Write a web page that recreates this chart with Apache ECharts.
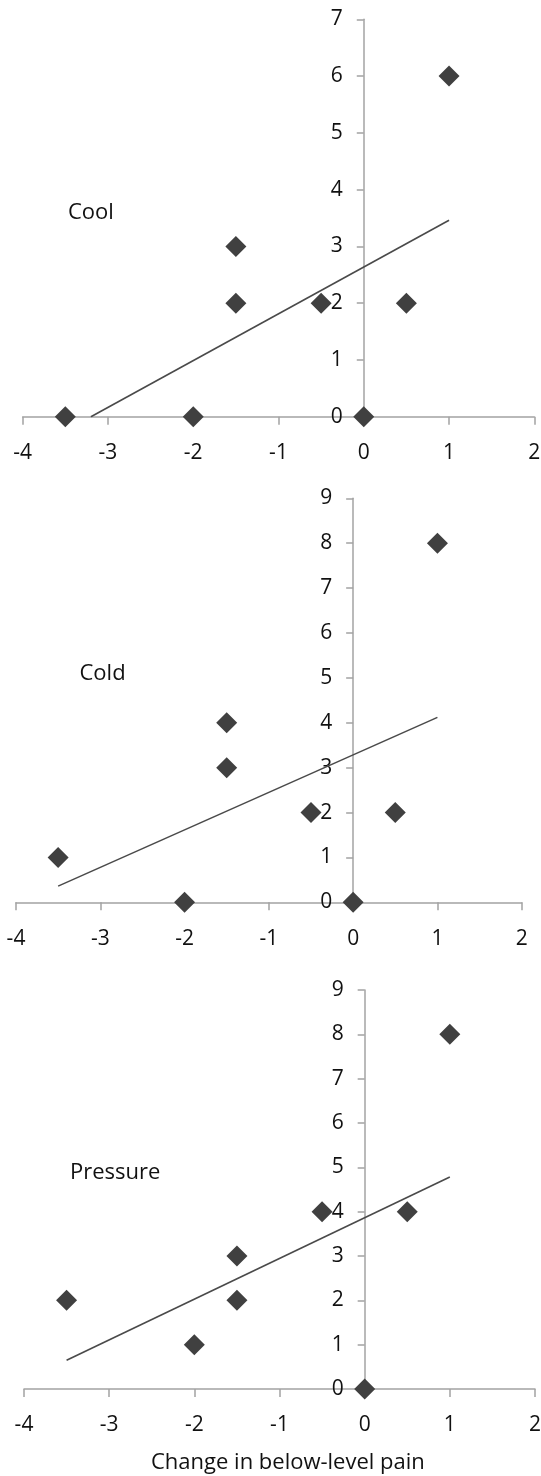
<!DOCTYPE html>
<html>
<head>
<meta charset="utf-8">
<script src="https://cdn.jsdelivr.net/npm/echarts@6/dist/echarts.min.js"></script>
<style>
html,body{margin:0;padding:0;background:#fff;}
#chart{width:541px;height:1476px;}
</style>
</head>
<body>
<div id="chart"></div>
<script>
// Data
const xValues = [-3.5, -2, -1.5, -1.5, -0.5, 0, 0.5, 1];
const coolValues = [0, 0, 3, 2, 2, 0, 2, 6];
const coldValues = [1, 0, 4, 3, 2, 0, 2, 8];
const pressureValues = [2, 1, 3, 2, 4, 0, 4, 8];
// Trend line endpoints (x, y)
const coolTrend = [[-3.2, 0], [1, 3.46]];
const coldTrend = [[-3.5, 0.36], [1, 4.12]];
const pressureTrend = [[-3.5, 0.65], [1, 4.78]];
const panelNames = ['Cool', 'Cold', 'Pressure'];
const yMaxes = [7, 9, 9];
const xMin = -4, xMax = 2;
const xAxisTitle = 'Change in below-level pain';

const FONT = 'Open Sans';
const axisGray = '#a3a3a3';
const markColor = '#404040';
const textColor = '#111111';

const grids = [
  {left: 22.7, top: 19.3, width: 511.6, height: 397.4, outerBoundsMode: 'none', containLabel: false},
  {left: 16, top: 498.3, width: 505.7, height: 404, outerBoundsMode: 'none', containLabel: false},
  {left: 24, top: 990, width: 511, height: 399, outerBoundsMode: 'none', containLabel: false}
];
const labelPos = [
  {left: 68, top: 199},
  {left: 79.5, top: 660},
  {left: 70, top: 1159}
];
const allY = [coolValues, coldValues, pressureValues];
const allTrend = [coolTrend, coldTrend, pressureTrend];

const xAxes = [], yAxes = [], series = [], titles = [];
for (let i = 0; i < 3; i++) {
  // shift the y axis so it sits at x = 0 (offset derived from the grid width)
  const yOffset = -grids[i].width * (0 - xMin) / (xMax - xMin);
  xAxes.push({
    type: 'value', gridIndex: i, min: xMin, max: xMax, interval: 1, position: 'bottom',
    splitLine: {show: false},
    axisLine: {onZero: false, lineStyle: {color: axisGray, width: 1.5}},
    axisTick: {show: true, inside: false, length: 8, lineStyle: {color: axisGray, width: 1.5}},
    axisLabel: {color: textColor, fontFamily: FONT, fontSize: 21, margin: 26}
  });
  yAxes.push({
    type: 'value', gridIndex: i, min: 0, max: yMaxes[i], interval: 1, position: 'left',
    offset: yOffset,
    splitLine: {show: false},
    axisLine: {show: true, onZero: false, lineStyle: {color: axisGray, width: 1.5}},
    axisTick: {show: true, inside: false, length: 7, lineStyle: {color: axisGray, width: 1.5}},
    axisLabel: {color: textColor, fontFamily: FONT, fontSize: 21, margin: 21}
  });
  series.push({
    type: 'line', xAxisIndex: i, yAxisIndex: i,
    data: allTrend[i], showSymbol: false, symbol: 'none',
    lineStyle: {color: '#4a4a4a', width: 1.6}, z: 2, silent: true, clip: true
  });
  series.push({
    type: 'scatter', xAxisIndex: i, yAxisIndex: i,
    data: xValues.map((x, k) => [x, allY[i][k]]),
    symbol: 'diamond', symbolSize: 21,
    itemStyle: {color: markColor, opacity: 1}, z: 3, clip: false
  });
  titles.push({
    text: panelNames[i], left: labelPos[i].left, top: labelPos[i].top, padding: 0,
    textStyle: {fontFamily: FONT, fontSize: 22, fontWeight: 'normal', color: textColor, lineHeight: 28}
  });
}
titles.push({
  text: xAxisTitle, left: 151, top: 1449, padding: 0,
  textStyle: {fontFamily: FONT, fontSize: 22, fontWeight: 'normal', color: textColor, lineHeight: 28}
});

const chart = echarts.init(document.getElementById('chart'), null, {renderer: 'canvas'});
chart.setOption({
  animation: false,
  backgroundColor: '#ffffff',
  title: titles,
  grid: grids,
  xAxis: xAxes,
  yAxis: yAxes,
  series: series
});
</script>
</body>
</html>
